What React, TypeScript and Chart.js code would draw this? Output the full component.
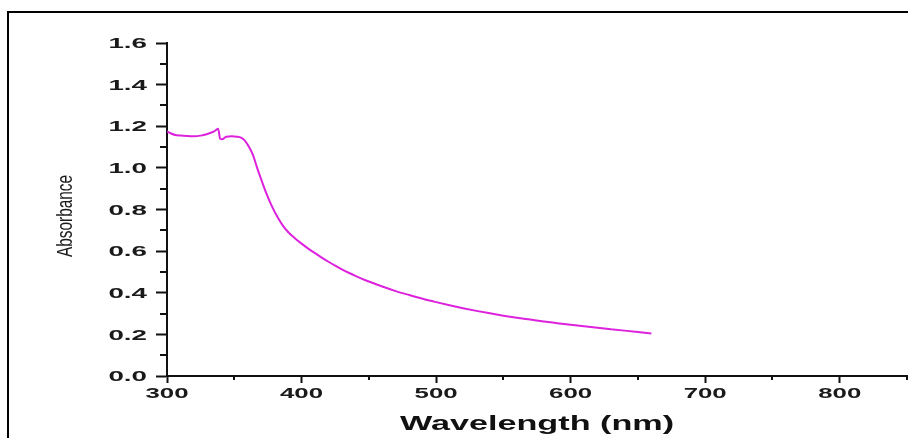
import React, { useEffect, useRef } from "react";
import { Chart, registerables } from "chart.js";

Chart.register(...registerables);

const wavelengths = [
  300, 303, 306, 310, 315, 320, 325, 330, 335, 338, 339.5, 341, 344, 348, 352, 355, 358, 361, 364, 367,
  370, 374, 378, 382, 386, 390, 395, 400, 405, 410, 415, 420, 425, 430, 435, 440, 445, 450, 460, 470,
  480, 490, 500, 510, 520, 530, 540, 550, 560, 570, 580, 590, 600, 610, 620, 630, 640, 650, 660,
];
const absorbance = [
  1.175, 1.165, 1.158, 1.155, 1.153, 1.152, 1.155, 1.163, 1.175, 1.188, 1.14, 1.138, 1.15, 1.152, 1.15, 1.145, 1.13, 1.1, 1.06, 1.0,
  0.945, 0.875, 0.815, 0.765, 0.724, 0.692, 0.662, 0.636, 0.612, 0.59, 0.569, 0.549, 0.53, 0.512, 0.496, 0.481, 0.467, 0.454, 0.43, 0.408,
  0.389, 0.371, 0.355, 0.34, 0.326, 0.313, 0.301, 0.29, 0.28, 0.271, 0.262, 0.254, 0.246, 0.239, 0.232, 0.225, 0.218, 0.211, 0.204,
];

const xTicks = [300, 400, 500, 600, 700, 800];
const xMinorTicks = [350, 450, 550, 650, 750, 850];
const yTicks = [0.0, 0.2, 0.4, 0.6, 0.8, 1.0, 1.2, 1.4, 1.6];
const yMinorTicks = [0.1, 0.3, 0.5, 0.7, 0.9, 1.1, 1.3, 1.5];
const xTitle = "Wavelength (nm)";
const yTitle = "Absorbance";

const W = 908;
const H = 438;

const drawPlugin = {
  id: "customDraw",
  beforeDraw(chart: any) {
    const ctx = chart.ctx;
    ctx.save();
    ctx.fillStyle = "#ffffff";
    ctx.fillRect(0, 0, chart.width, chart.height);
    ctx.restore();
  },
  afterDraw(chart: any) {
    const ctx = chart.ctx;
    const xs = chart.scales.x;
    const ys = chart.scales.y;
    const area = chart.chartArea;
    ctx.save();
    // frame
    ctx.strokeStyle = "#000";
    ctx.lineWidth = 2;
    ctx.beginPath();
    ctx.moveTo(8, H + 4);
    ctx.lineTo(8, 12);
    ctx.lineTo(W + 4, 12);
    ctx.stroke();

    // minor ticks
    ctx.strokeStyle = "#111";
    ctx.lineWidth = 2;
    ctx.beginPath();
    yMinorTicks.forEach((v) => {
      const py = Math.round(ys.getPixelForValue(v));
      ctx.moveTo(area.left - 7, py);
      ctx.lineTo(area.left, py);
    });
    xMinorTicks.forEach((v) => {
      const px = Math.round(xs.getPixelForValue(v));
      ctx.moveTo(px, area.bottom);
      ctx.lineTo(px, area.bottom + 4);
    });
    ctx.stroke();

    // y tick labels
    ctx.fillStyle = "#1a1a1a";
    ctx.font = 'bold 15px "Liberation Sans", Arial, sans-serif';
    ctx.textAlign = "right";
    ctx.textBaseline = "middle";
    yTicks.forEach((v) => {
      const py = ys.getPixelForValue(v);
      ctx.save();
      ctx.translate(147, py + 1);
      ctx.scale(1.85, 1);
      ctx.fillText(v.toFixed(1), 0, 0);
      ctx.restore();
    });

    // x tick labels
    ctx.textAlign = "center";
    xTicks.forEach((v) => {
      const px = xs.getPixelForValue(v);
      ctx.save();
      ctx.translate(px, 394);
      ctx.scale(1.72, 1);
      ctx.fillText(String(v), 0, 0);
      ctx.restore();
    });

    // x title
    ctx.fillStyle = "#111";
    ctx.font = 'bold 20px "Liberation Sans", Arial, sans-serif';
    ctx.textBaseline = "alphabetic";
    ctx.save();
    ctx.translate((area.left + area.right) / 2, 430);
    ctx.scale(1.71, 1);
    ctx.fillText(xTitle, 0, 0);
    ctx.restore();

    // y title
    ctx.fillStyle = "#1a1a1a";
    ctx.font = '22px "Liberation Sans", Arial, sans-serif';
    ctx.save();
    ctx.translate(72, 216);
    ctx.rotate(-Math.PI / 2);
    ctx.scale(0.7, 1);
    ctx.textAlign = "center";
    ctx.fillText(yTitle, 0, 0);
    ctx.restore();

    ctx.restore();
  },
};

export default function App() {
  const canvasRef = useRef<HTMLCanvasElement | null>(null);

  useEffect(() => {
    if (!canvasRef.current) return;
    const data = wavelengths.map((w, i) => ({ x: w, y: absorbance[i] }));
    const chart = new Chart(canvasRef.current, {
      type: "line",
      data: {
        datasets: [
          {
            data,
            borderColor: "#dd22dd",
            borderWidth: 2,
            pointRadius: 0,
            fill: false,
            cubicInterpolationMode: "monotone",
          },
        ],
      },
      options: {
        animation: false,
        responsive: false,
        events: [],
        layout: { padding: { left: 0, top: 43, right: 1, bottom: 0 } },
        plugins: { legend: { display: false }, tooltip: { enabled: false } },
        scales: {
          x: {
            type: "linear",
            min: 300,
            max: 850,
            afterFit: (s: any) => {
              s.height = 62;
            },
            afterBuildTicks: (s: any) => {
              s.ticks = xTicks.map((v) => ({ value: v }));
            },
            ticks: { display: false },
            border: { display: true, color: "#111", width: 2 },
            grid: {
              drawOnChartArea: false,
              drawTicks: true,
              tickLength: 7,
              tickWidth: 2,
              tickColor: "#111",
            },
          },
          y: {
            type: "linear",
            min: 0,
            max: 1.6,
            afterFit: (s: any) => {
              s.width = 167;
            },
            afterBuildTicks: (s: any) => {
              s.ticks = yTicks.map((v) => ({ value: v }));
            },
            ticks: { display: false },
            border: { display: true, color: "#111", width: 2 },
            grid: {
              drawOnChartArea: false,
              drawTicks: true,
              tickLength: 11,
              tickWidth: 2,
              tickColor: "#111",
            },
          },
        },
      },
      plugins: [drawPlugin],
    });
    return () => chart.destroy();
  }, []);

  return (
    <div style={{ position: "fixed", left: 0, top: 0, width: W, height: H, background: "#fff" }}>
      <canvas ref={canvasRef} width={W} height={H} style={{ display: "block", width: W, height: H }} />
    </div>
  );
}
